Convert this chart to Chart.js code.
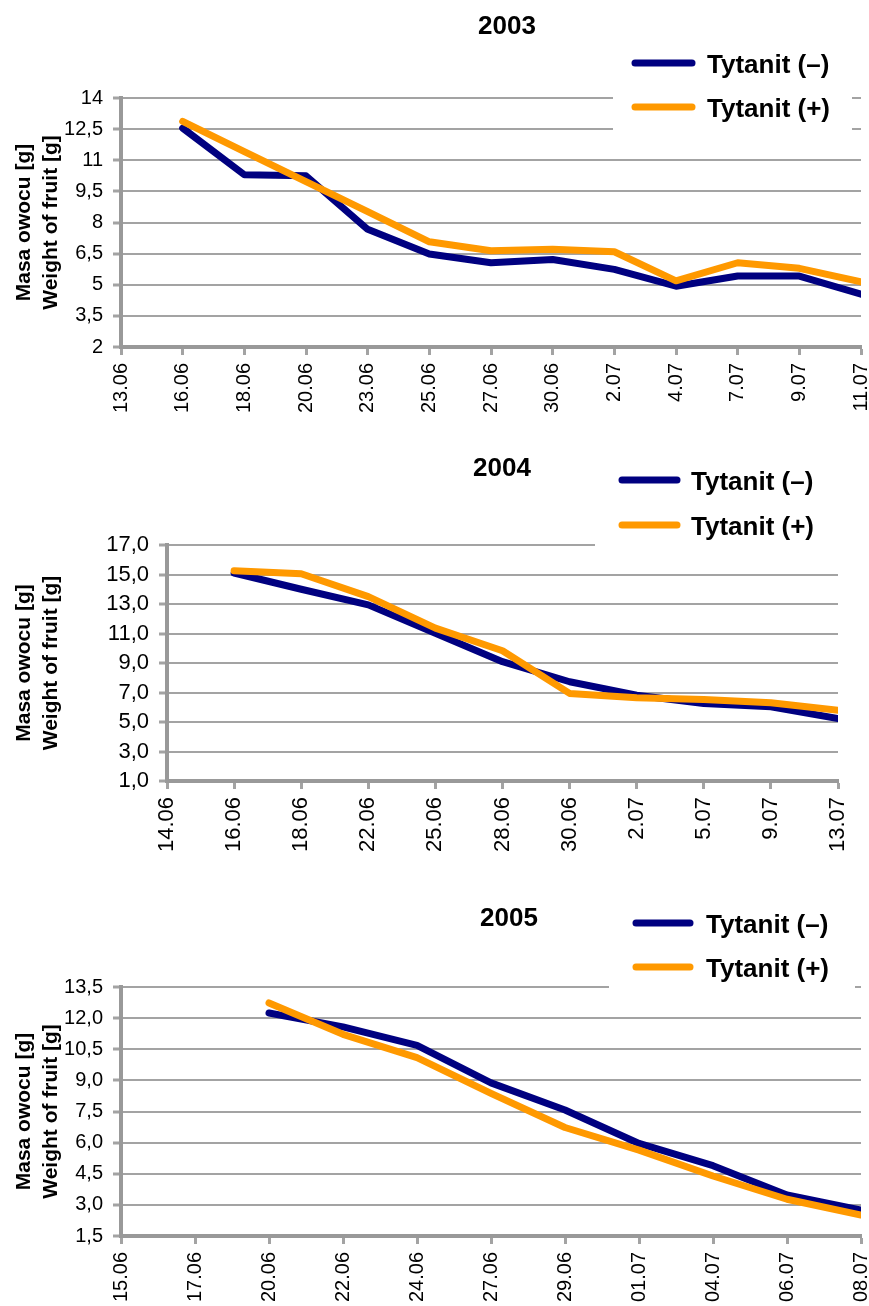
<!DOCTYPE html>
<html><head><meta charset="utf-8">
<script src="https://cdn.jsdelivr.net/npm/chart.js@4/dist/chart.umd.min.js"></script>
<style>
html,body{margin:0;padding:0;background:#fff;}
#wrap{position:relative;width:869px;height:1306px;background:#fff;}
canvas{position:absolute;left:0;}
</style></head><body>
<div id="wrap">
<canvas id="c2003" width="869" height="440" style="top:0px"></canvas>
<canvas id="c2004" width="869" height="440" style="top:440px"></canvas>
<canvas id="c2005" width="869" height="426" style="top:880px"></canvas>
</div>
<script>
// ---- data ----
const seriesNames = ['Tytanit (–)', 'Tytanit (+)'];
const yAxisTitle = ['Masa owocu [g]', 'Weight of fruit [g]'];

const dates2003 = ['13.06','16.06','18.06','20.06','23.06','25.06','27.06','30.06','2.07','4.07','7.07','9.07','11.07'];
const minus2003 = [null, 12.55, 10.30, 10.25, 7.67, 6.48, 6.06, 6.22, 5.74, 4.93, 5.42, 5.42, 4.55];
const plus2003  = [null, 12.87, 11.42, 9.97, 8.52, 7.07, 6.64, 6.71, 6.59, 5.19, 6.06, 5.79, 5.14];
const yTicks2003 = [2, 3.5, 5, 6.5, 8, 9.5, 11, 12.5, 14];

const dates2004 = ['14.06','16.06','18.06','22.06','25.06','28.06','30.06','2.07','5.07','9.07','13.07'];
const minus2004 = [null, 15.10, 14.00, 12.94, 11.02, 9.09, 7.73, 6.82, 6.26, 6.03, 5.24];
const plus2004  = [null, 15.25, 15.05, 13.50, 11.36, 9.83, 6.94, 6.64, 6.53, 6.30, 5.80];
const yTicks2004 = [1, 3, 5, 7, 9, 11, 13, 15, 17];

const dates2005 = ['15.06','17.06','20.06','22.06','24.06','27.06','29.06','01.07','04.07','06.07','08.07'];
const minus2005 = [null, null, 12.25, 11.58, 10.69, 8.88, 7.57, 5.96, 4.89, 3.48, 2.75];
const plus2005  = [null, null, 12.73, 11.22, 10.10, 8.37, 6.73, 5.64, 4.39, 3.27, 2.51];
const yTicks2005 = [1.5, 3, 4.5, 6, 7.5, 9, 10.5, 12, 13.5];

// ---- styles ----
const NAVY = '#000080';
const ORANGE = '#FF9900';
const GRID = '#a3a3a3';
const AXIS = '#999999';
const FAMILY = '"Liberation Sans", Arial, Helvetica, sans-serif';

const decor = {
  id: 'decor',
  beforeDatasetsDraw(chart, args, o) {
    const ctx = chart.ctx;
    ctx.save();
    ctx.fillStyle = '#fff';
    ctx.fillRect(o.box[0], o.box[1], o.box[2] - o.box[0], o.box[3] - o.box[1]);
    ctx.fillStyle = '#000';
    ctx.textBaseline = 'middle';
    ctx.font = 'bold 26px ' + FAMILY;
    ctx.textAlign = 'center';
    ctx.fillText(o.title, o.titleX, o.titleY);
    ctx.textAlign = 'left';
    chart.data.datasets.forEach((ds, i) => {
      const y = o.rows[i];
      ctx.strokeStyle = ds.borderColor;
      ctx.lineWidth = 7;
      ctx.lineCap = 'round';
      ctx.beginPath();
      ctx.moveTo(o.sx1, y);
      ctx.lineTo(o.sx2, y);
      ctx.stroke();
      ctx.fillText(ds.label, o.tx, y + 3);
    });
    ctx.restore();
  }
};

function makeChart(id, c) {
  const fmt = c.oneDecimal
    ? v => Number(v).toFixed(1).replace('.', ',')
    : v => String(Number(v)).replace('.', ',');
  return new Chart(document.getElementById(id), {
    type: 'line',
    data: {
      labels: c.labels,
      datasets: [
        { label: seriesNames[0], data: c.minus, borderColor: NAVY, backgroundColor: NAVY,
          borderWidth: 7, pointRadius: 0, tension: 0, order: 1, clip: 0,
          borderJoinStyle: 'round', borderCapStyle: 'round' },
        { label: seriesNames[1], data: c.plus, borderColor: ORANGE, backgroundColor: ORANGE,
          borderWidth: 7, pointRadius: 0, tension: 0, order: 0, clip: 0,
          borderJoinStyle: 'round', borderCapStyle: 'round' }
      ]
    },
    options: {
      responsive: false, animation: false, devicePixelRatio: 1,
      events: [],
      layout: { padding: { left: 0, top: c.padTop, right: c.padRight, bottom: 0 } },
      plugins: {
        legend: { display: false },
        title: { display: false },
        tooltip: { enabled: false },
        decor: c.decor
      },
      scales: {
        x: {
          type: 'category', offset: false,
          grid: { drawOnChartArea: false, drawTicks: true, tickLength: 8, tickWidth: 3, tickColor: GRID },
          border: { color: AXIS, width: 4 },
          ticks: { autoSkip: false, maxRotation: 90, minRotation: 90, padding: 8, color: '#000',
                   font: { family: FAMILY, size: c.fs } },
          afterFit(s) { s.height = c.xH; s.paddingLeft = 0; s.paddingRight = 0; }
        },
        y: {
          min: c.yTicks[0], max: c.yTicks[c.yTicks.length - 1],
          grid: { color: GRID, lineWidth: 2, tickLength: 8, tickWidth: 3, tickColor: GRID },
          border: { color: AXIS, width: 4 },
          ticks: { padding: 10, color: '#000', font: { family: FAMILY, size: c.fs }, callback: v => fmt(v) },
          title: { display: true, text: yAxisTitle, color: '#000',
                   font: { family: FAMILY, size: 21, weight: 'bold', lineHeight: 1.27 },
                   padding: { top: 11, bottom: 0 } },
          afterBuildTicks(s) { s.ticks = c.yTicks.map(v => ({ value: v })); },
          afterFit(s) { s.width = c.yW; s.paddingTop = 0; s.paddingBottom = 0; }
        }
      }
    },
    plugins: [decor]
  });
}

makeChart('c2003', {
  labels: dates2003, minus: minus2003, plus: plus2003, yTicks: yTicks2003, oneDecimal: false,
  padTop: 98, padRight: 8, xH: 93, yW: 121, fs: 20,
  decor: { title: '2003', titleX: 507, titleY: 27, box: [613, 45, 852, 145],
           sx1: 635, sx2: 692, tx: 707, rows: [63, 107] }
});
makeChart('c2004', {
  labels: dates2004, minus: minus2004, plus: plus2004, yTicks: yTicks2004, oneDecimal: true,
  padTop: 105, padRight: 31, xH: 99, yW: 167, fs: 22,
  decor: { title: '2004', titleX: 502, titleY: 29, box: [595, 20, 869, 125],
           sx1: 622, sx2: 677, tx: 691, rows: [40, 85] }
});
makeChart('c2005', {
  labels: dates2005, minus: minus2005, plus: plus2005, yTicks: yTicks2005, oneDecimal: true,
  padTop: 107, padRight: 8, xH: 70, yW: 121, fs: 20,
  decor: { title: '2005', titleX: 509, titleY: 39, box: [609, 20, 855, 125],
           sx1: 636, sx2: 690, tx: 706, rows: [43, 87] }
});
</script>
</body></html>
